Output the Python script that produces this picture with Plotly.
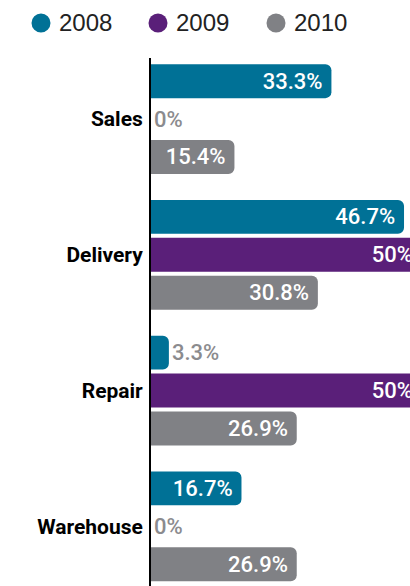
import plotly.graph_objects as go

categories = ["Sales", "Delivery", "Repair", "Warehouse"]
years = ["2008", "2009", "2010"]
values_2008 = [33.3, 46.7, 3.3, 16.7]
values_2009 = [0, 50, 50, 0]
values_2010 = [15.4, 30.8, 26.9, 26.9]

colors = {"2008": "#007196", "2009": "#5a1f79", "2010": "#808185"}
label_gray = "#8b8b8e"

W, H = 410, 586
L, T = 151, 58
pw, ph = W - L, H - T
px_per_pct = 5.418

fig = go.Figure()
for yr, vals in zip(years, [values_2008, values_2009, values_2010]):
    pos = ["inside" if v >= 8 else "outside" for v in vals]
    fig.add_bar(
        y=categories, x=vals, orientation="h", name=yr,
        marker=dict(color=colors[yr], cornerradius=6, line_width=0),
        text=[f"{v:g}%" + ("\u00a0" if p == "inside" else "") for v, p in zip(vals, pos)],
        textposition=pos,
        insidetextanchor="end",
        insidetextfont=dict(color="white", size=22, family="Roboto", weight=500),
        outsidetextfont=dict(color=label_gray, size=22, family="Roboto", weight=500),
        showlegend=False,
    )

# legend: colored dots + year labels (pixel positions)
legend_x = [41, 158, 276]
legend_y = 23
shapes, annots = [], []
for yr, lx in zip(years, legend_x):
    xp = (lx - L) / pw
    yp = 1 + (T - legend_y) / ph
    shapes.append(dict(type="circle", xref="paper", yref="paper",
                       xsizemode="pixel", ysizemode="pixel",
                       xanchor=xp, yanchor=yp, x0=-9.5, x1=9.5, y0=-9.5, y1=9.5,
                       fillcolor=colors[yr], line_width=0))
    annots.append(dict(xref="paper", yref="paper", x=(lx + 16 - L) / pw, y=yp,
                       xanchor="left", yanchor="middle", showarrow=False, text=yr,
                       font=dict(size=24, family="Liberation Sans", color="#222222")))

fig.update_layout(
    width=W, height=H,
    margin=dict(l=L, r=0, t=T, b=0, autoexpand=False),
    paper_bgcolor="white", plot_bgcolor="white",
    barmode="group", bargap=0.162, bargroupgap=0.105,
    showlegend=False,
    shapes=shapes, annotations=annots,
    xaxis=dict(range=[0, pw / px_per_pct], visible=False, fixedrange=True),
    yaxis=dict(
        range=[3.44, -0.45], showline=True, linecolor="black", linewidth=2,
        ticks="", ticklabelstandoff=2, showgrid=False, zeroline=False,
        tickfont=dict(size=21, family="Roboto", weight="bold", color="black"),
    ),
)

fig.write_html("out.html", config={"displayModeBar": False},
               post_script="document.body.style.margin = '0';")
